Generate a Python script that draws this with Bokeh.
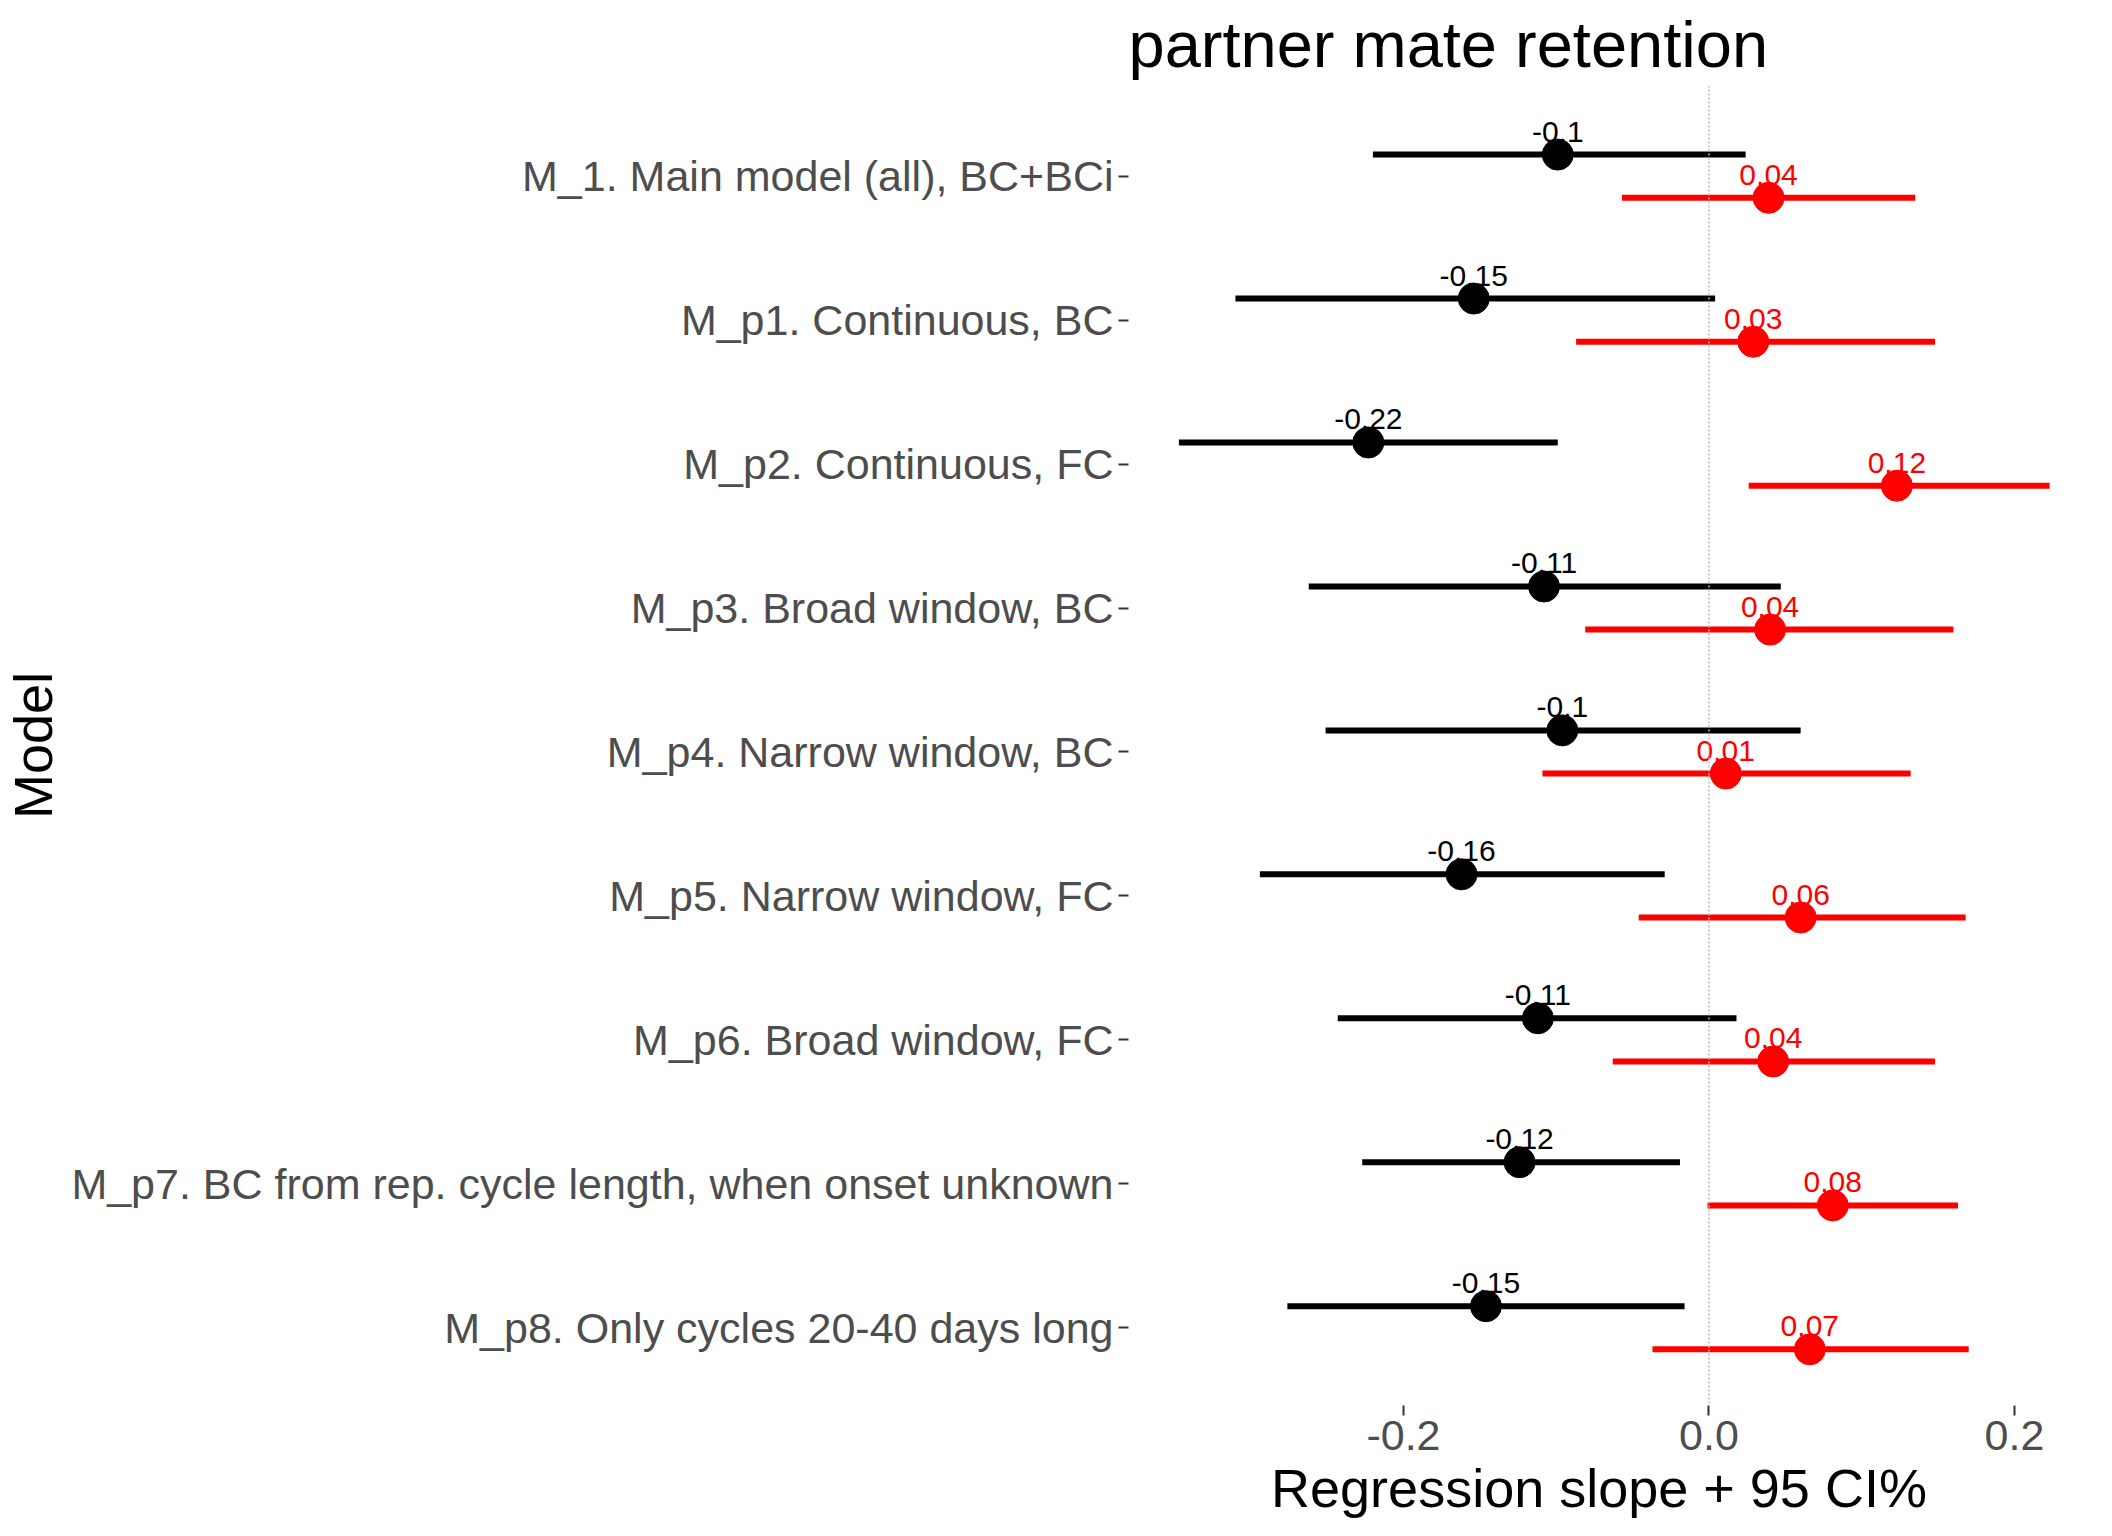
from bokeh.plotting import figure
from bokeh.models import ColumnDataSource, Span, FixedTicker
from bokeh.embed import file_html
from bokeh.resources import INLINE
from bokeh.core.properties import value

models = ["M_1. Main model (all), BC+BCi", "M_p1. Continuous, BC", "M_p2. Continuous, FC",
          "M_p3. Broad window, BC", "M_p4. Narrow window, BC", "M_p5. Narrow window, FC",
          "M_p6. Broad window, FC", "M_p7. BC from rep. cycle length, when onset unknown",
          "M_p8. Only cycles 20-40 days long"]
blk_est = [-0.099, -0.154, -0.223, -0.108, -0.096, -0.162, -0.112, -0.124, -0.146]
blk_lo = [-0.220, -0.310, -0.347, -0.262, -0.251, -0.294, -0.243, -0.227, -0.276]
blk_hi = [0.024, 0.004, -0.099, 0.047, 0.060, -0.029, 0.018, -0.019, -0.016]
blk_lab = ["-0.1", "-0.15", "-0.22", "-0.11", "-0.1", "-0.16", "-0.11", "-0.12", "-0.15"]
red_est = [0.039, 0.029, 0.123, 0.040, 0.011, 0.060, 0.042, 0.081, 0.066]
red_lo = [-0.057, -0.087, 0.026, -0.081, -0.109, -0.046, -0.063, -0.001, -0.037]
red_hi = [0.135, 0.148, 0.223, 0.160, 0.132, 0.168, 0.148, 0.163, 0.170]
red_lab = ["0.04", "0.03", "0.12", "0.04", "0.01", "0.06", "0.04", "0.08", "0.07"]

n = len(models)
pos = [n - i for i in range(n)]
FONT = "Liberation Sans"

p = figure(width=2096, height=1520, output_backend="svg", toolbar_location=None,
           x_range=(-0.38, 0.236), y_range=(0.46, 9.63), title="partner mate retention",
           min_border_right=27, min_border_top=30, min_border_bottom=30)
p.title.text_font = FONT
p.title.text_font_size = "65px"
p.title.text_font_style = "normal"
p.title.text_color = "black"
p.outline_line_color = None
p.grid.grid_line_color = None

p.add_layout(Span(location=0, dimension="height", line_color="#bbbbbb",
                  line_dash="2 2", line_width=1.5))

for est, lo, hi, lab, col, off in [(blk_est, blk_lo, blk_hi, blk_lab, "black", 0.15),
                                   (red_est, red_lo, red_hi, red_lab, "red", -0.15)]:
    src = ColumnDataSource(dict(y=[q + off for q in pos], est=est, lo=lo, hi=hi, lab=lab))
    p.segment(x0="lo", x1="hi", y0="y", y1="y", source=src, line_color=col, line_width=6)
    p.scatter(x="est", y="y", source=src, size=31, fill_color=col, line_color=col)
    p.text(x="est", y="y", text="lab", source=src, text_color=col, text_align="center",
           text_baseline="bottom", y_offset=-13, text_font_size="30px", text_font=value(FONT))

p.yaxis.ticker = FixedTicker(ticks=pos)
p.yaxis.major_label_overrides = {q: m for q, m in zip(pos, models)}
p.xaxis.ticker = FixedTicker(ticks=[-0.2, 0.0, 0.2])
p.xaxis.major_label_overrides = {-0.2: "-0.2", 0.0: "0.0", 0.2: "0.2"}
for ax in (p.xaxis, p.yaxis):
    ax.axis_line_color = None
    ax.minor_tick_line_color = None
    ax.major_tick_line_color = "#333333"
    ax.major_tick_line_width = 2
    ax.major_tick_out = 10
    ax.major_tick_in = 0
    ax.major_label_text_font = FONT
    ax.major_label_text_font_size = "43px"
    ax.major_label_text_color = "#4d4d4d"
    ax.axis_label_text_font = FONT
    ax.axis_label_text_font_size = "54px"
    ax.axis_label_text_font_style = "normal"
    ax.axis_label_text_color = "black"
p.xaxis.axis_label = "Regression slope + 95 CI%"
p.yaxis.axis_label = "Model"

open("out.html", "w").write(file_html(p, INLINE))
